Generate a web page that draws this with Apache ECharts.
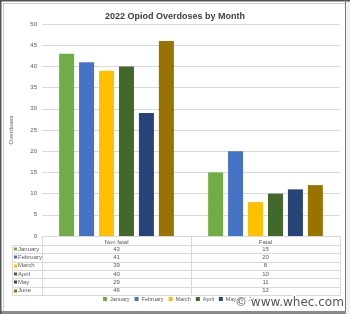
<!DOCTYPE html>
<html><head><meta charset="utf-8">
<script src="https://cdn.jsdelivr.net/npm/echarts@6/dist/echarts.min.js"></script>
<style>html,body{margin:0;padding:0;background:#fff}#c{width:350px;height:314px}</style>
</head><body><div id="c"></div>
<script>
const categories = ['Non fatal', 'Fatal'];
const months = ['January', 'February', 'March', 'April', 'May', 'June'];
const january = [43, 15];
const february = [41, 20];
const march = [39, 8];
const april = [40, 10];
const may = [29, 11];
const june = [46, 12];
const yTicks = [0, 5, 10, 15, 20, 25, 30, 35, 40, 45, 50];
const colors = ['#70AD47', '#4472C4', '#FFC000', '#43682B', '#264478', '#997300'];
const seriesValues = [january, february, march, april, may, june];

const G = {left: 42, right: 340, top: 24, bottom: 236};
const chart = echarts.init(document.getElementById('c'), null, {renderer: 'canvas'});
const txt = '#595959';
const font = 'Liberation Sans, Arial, sans-serif';

const option = {
  animation: false,
  backgroundColor: '#fff',
  textStyle: {fontFamily: font},
  title: {text: '2022 Opiod Overdoses by Month', left: 'center', top: 7,
    textStyle: {fontSize: 9, fontWeight: 'bold', color: '#404040', fontFamily: font}},
  grid: {left: G.left, right: 350 - G.right, top: G.top, bottom: 314 - G.bottom},
  legend: {data: months, bottom: 7, left: 98, itemWidth: 4, itemHeight: 4, itemGap: 5,
    icon: 'rect', textStyle: {fontSize: 5.5, color: txt, padding: [0, 0, 0, -2]}},
  xAxis: {type: 'category', data: categories,
    axisLine: {lineStyle: {color: '#d9d9d9'}}, axisTick: {show: false},
    axisLabel: {fontSize: 6, color: txt, margin: 3}},
  yAxis: {type: 'value', min: yTicks[0], max: yTicks[yTicks.length - 1], interval: 5,
    name: 'Overdoses', nameLocation: 'middle', nameGap: 28, nameRotate: 90,
    nameTextStyle: {fontSize: 6, color: txt},
    axisLine: {show: false}, axisTick: {show: false},
    axisLabel: {fontSize: 6, color: txt, margin: 5},
    splitLine: {lineStyle: {color: '#d9d9d9', width: 1}}},
  series: months.map((m, i) => ({
    name: m, type: 'bar', data: seriesValues[i], barWidth: 15, barGap: '33%',
    itemStyle: {color: colors[i]}
  }))
};
chart.setOption(option);

// data table built from the arrays
const g = [];
const rowTop = 245, rowH = 8.33;
const catW = (G.right - G.left) / categories.length;
for (let r = 0; r <= months.length; r++) {
  const y = Math.round(rowTop + r * rowH) + 0.5;
  g.push({type: 'line', shape: {x1: 12, y1: y, x2: G.right, y2: y}, style: {stroke: '#d9d9d9', lineWidth: 1}, silent: true});
}
const tableBottom = Math.round(rowTop + months.length * rowH) + 0.5;
for (let c = 0; c <= categories.length; c++) {
  const x = Math.round(G.left + c * catW) + 0.5;
  g.push({type: 'line', shape: {x1: x, y1: G.bottom, x2: x, y2: tableBottom}, style: {stroke: '#d9d9d9', lineWidth: 1}, silent: true});
}
g.push({type: 'line', shape: {x1: 12.5, y1: rowTop, x2: 12.5, y2: tableBottom}, style: {stroke: '#d9d9d9', lineWidth: 1}, silent: true});
months.forEach((m, r) => {
  const yc = rowTop + r * rowH + rowH / 2;
  g.push({type: 'rect', shape: {x: 14, y: Math.round(yc) - 1.5, width: 3, height: 3}, style: {fill: colors[r]}, silent: true});
  g.push({type: 'text', x: 18, y: yc, style: {text: m, fontSize: 6, fill: txt, fontFamily: font, verticalAlign: 'middle', textVerticalAlign: 'middle'}, silent: true});
  categories.forEach((cat, c) => {
    const px = chart.convertToPixel({xAxisIndex: 0}, c);
    g.push({type: 'text', x: px, y: yc, style: {text: String(seriesValues[r][c]), fontSize: 6, fill: txt, fontFamily: font, align: 'center', textAlign: 'center', verticalAlign: 'middle', textVerticalAlign: 'middle'}, silent: true});
  });
});
// frame
g.push({type: 'rect', shape: {x: 0, y: 311, width: 350, height: 3}, style: {fill: '#8a8a8a'}, silent: true});
g.push({type: 'rect', shape: {x: 346, y: 0, width: 4, height: 314}, style: {fill: '#f2f2f2'}, silent: true});
g.push({type: 'line', shape: {x1: 0.5, y1: 0, x2: 0.5, y2: 314}, style: {stroke: '#555', lineWidth: 2}, silent: true});
g.push({type: 'line', shape: {x1: 0, y1: 0.5, x2: 350, y2: 0.5}, style: {stroke: '#555', lineWidth: 2}, silent: true});
g.push({type: 'line', shape: {x1: 3.5, y1: 3, x2: 3.5, y2: 311}, style: {stroke: '#ccc', lineWidth: 1}, silent: true});
g.push({type: 'line', shape: {x1: 3, y1: 3.5, x2: 345, y2: 3.5}, style: {stroke: '#ccc', lineWidth: 1}, silent: true});
g.push({type: 'line', shape: {x1: 345.5, y1: 0, x2: 345.5, y2: 311}, style: {stroke: '#777', lineWidth: 1}, silent: true});
// watermark
g.push({type: 'text', x: 235, y: 303, style: {text: '\u00A9 www.whec.com', fontSize: 12, fill: '#555', stroke: '#fff', lineWidth: 2, fontFamily: 'DejaVu Sans, sans-serif', verticalAlign: 'middle', textVerticalAlign: 'middle'}, silent: true, z: 100});
chart.setOption({graphic: g});
</script></body></html>
